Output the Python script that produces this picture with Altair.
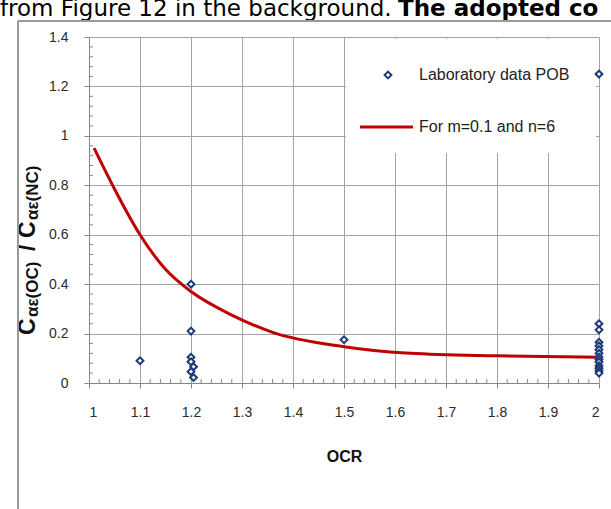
import altair as alt
import pandas as pd

# Laboratory measurements (OCR vs creep ratio)
lab_ocr = [1.1, 1.2, 1.2, 1.2, 1.2, 1.205, 1.2, 1.205,
           1.5,
           2.0, 2.0, 2.0, 2.0, 2.0, 2.0, 2.0, 2.0, 2.0, 2.0, 2.0, 2.0, 2.0, 2.0]
lab_ratio = [0.09, 0.40, 0.21, 0.104, 0.086, 0.066, 0.046, 0.022,
             0.175,
             1.25, 0.24, 0.215, 0.165, 0.15, 0.135, 0.12, 0.105, 0.095, 0.085, 0.07, 0.06, 0.05, 0.04]

# Fitted curve for m=0.1 and n=6
fit_ocr = [1.01, 1.05, 1.1, 1.15, 1.2, 1.28, 1.36, 1.5, 1.63, 1.8, 2.0]
fit_ratio = [0.95, 0.785, 0.6, 0.46, 0.37, 0.275, 0.205, 0.147, 0.12, 0.11, 0.104]

x_ticks = [1.0, 1.1, 1.2, 1.3, 1.4, 1.5, 1.6, 1.7, 1.8, 1.9, 2.0]
y_ticks = [0.0, 0.2, 0.4, 0.6, 0.8, 1.0, 1.2, 1.4]
x_minor = [round(1 + i * 0.02, 2) for i in range(51) if i % 5]
y_minor = [round(i * 0.04, 2) for i in range(36) if i % 5]

W, H = 510, 346
LEFT, TOP = 89, 37
FONT = "Liberation Sans"
GRID = "#A3A3A3"
AXIS = "#868686"
NAVY = "#1F3A78"
RED = "#C00000"

x_scale = alt.Scale(domain=[1, 2], nice=False, zero=False)
y_scale = alt.Scale(domain=[0, 1.4], nice=False)

x_axis = alt.Axis(values=x_ticks, format="~g", title="OCR", grid=True, gridColor=GRID,
                  domainColor=AXIS, tickColor=AXIS, tickSize=5, labelPadding=17,
                  labelFont=FONT, labelFontSize=14, labelColor="#2B2B2B",
                  titleFont=FONT, titleFontSize=16, titleFontWeight="bold",
                  titleColor="#111111", titlePadding=29)
y_axis = alt.Axis(values=y_ticks, format="~g", title="", grid=True, gridColor=GRID,
                  domainColor=AXIS, tickColor=AXIS, tickSize=5, labelPadding=16,
                  labelFont=FONT, labelFontSize=14, labelColor="#2B2B2B")

X = alt.X("OCR:Q", scale=x_scale, axis=x_axis)
Y = alt.Y("ratio:Q", scale=y_scale, axis=y_axis)

lab = pd.DataFrame({"OCR": lab_ocr, "ratio": lab_ratio})
fit = pd.DataFrame({"OCR": fit_ocr, "ratio": fit_ratio})
one = pd.DataFrame({"k": [0]})

fit_line = alt.Chart(fit).mark_line(color=RED, strokeWidth=3, interpolate="monotone").encode(
    x=X, y=Y)

# minor ticks on the inside of both axes
x_minor_ticks = alt.Chart(pd.DataFrame({"OCR": x_minor})).mark_rule(color=AXIS).encode(
    x=X, y=alt.value(H), y2=alt.value(H - 4))
y_minor_ticks = alt.Chart(pd.DataFrame({"ratio": y_minor})).mark_rule(color=AXIS).encode(
    y=Y, x=alt.value(0), x2=alt.value(4))

points = alt.Chart(lab).mark_point(shape="diamond", filled=True, fill="white", stroke=NAVY,
                                   strokeWidth=2, size=46, opacity=1).encode(x=X, y=Y)

# legend box
legend_box = alt.Chart(one).mark_rect(fill="white").encode(
    x=alt.value(257), x2=alt.value(507), y=alt.value(2), y2=alt.value(116))
legend_marker = alt.Chart(one).mark_point(shape="diamond", filled=True, fill="white", stroke=NAVY,
                                          strokeWidth=2, size=46, opacity=1).encode(
    x=alt.value(299), y=alt.value(38))
legend_line = alt.Chart(one).mark_rule(color=RED, strokeWidth=3).encode(
    x=alt.value(271), x2=alt.value(324), y=alt.value(90))


def label(text, x, y, size=12, weight="normal", angle=0, align="left",
          baseline="middle", font=FONT, color="#222222"):
    return alt.Chart(one).mark_text(text=text, fontSize=size, fontWeight=weight, angle=angle,
                                    align=align, baseline=baseline, font=font, color=color).encode(
        x=alt.value(x), y=alt.value(y))


legend_text = [
    label("Laboratory data POB", 330, 38, size=16),
    label("For m=0.1 and n=6", 330, 90, size=16),
]

# rotated y title with subscripts
y_title = [
    label("C", -54, 298, size=23, weight="bold", angle=270, baseline="alphabetic", color="#111111"),
    label("αε(OC)", -51, 280, size=17, weight="bold", angle=270, baseline="alphabetic", color="#111111"),
    label("/", -54, 214, size=23, weight="bold", angle=270, baseline="alphabetic", color="#111111"),
    label("C", -54, 201, size=23, weight="bold", angle=270, baseline="alphabetic", color="#111111"),
    label("αε(NC)", -51, 183, size=17, weight="bold", angle=270, baseline="alphabetic", color="#111111"),
]

# surrounding page: text line above and chart frame
page_text = [
    label("from Figure 12 in the background.", -LEFT, 16 - TOP, size=23,
          baseline="alphabetic", font="DejaVu Sans", color="#000000"),
    label("The adopted co", 398 - LEFT, 16 - TOP, size=23, weight="bold",
          baseline="alphabetic", font="DejaVu Sans", color="#000000"),
]
frame_top = alt.Chart(one).mark_rule(color="#9A9A9A", strokeWidth=2).encode(
    x=alt.value(18 - LEFT), x2=alt.value(611 - LEFT), y=alt.value(21 - TOP))
frame_left = alt.Chart(one).mark_rule(color="#9A9A9A", strokeWidth=2).encode(
    x=alt.value(18 - LEFT), y=alt.value(21 - TOP), y2=alt.value(509 - TOP))

chart = alt.layer(
    fit_line, x_minor_ticks, y_minor_ticks, legend_box, points,
    legend_marker, legend_line, *legend_text, *y_title,
    *page_text, frame_top, frame_left,
).properties(
    width=W, height=H,
    padding={"left": LEFT, "top": TOP, "right": 611 - LEFT - W, "bottom": 509 - TOP - H},
    autosize=alt.AutoSizeParams(type="none"),
    background="white",
).configure_view(strokeWidth=0)

chart.save("out.html", embed_options={"renderer": "svg", "actions": False})
